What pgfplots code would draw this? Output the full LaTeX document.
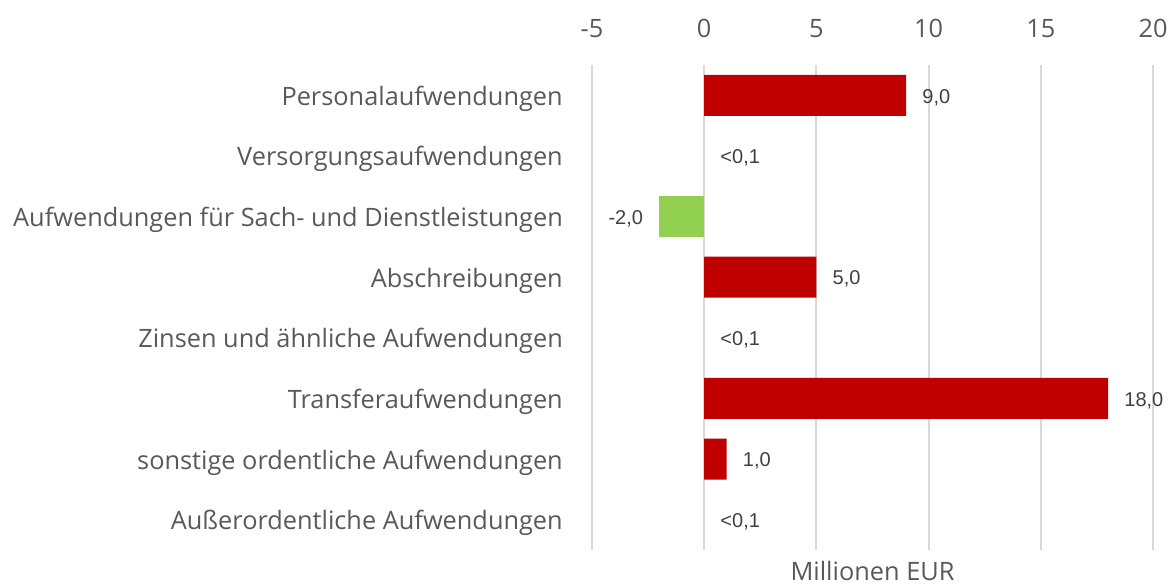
\documentclass[border=0pt]{standalone}
\usepackage{pgfplots}
\pgfplotsset{compat=1.18}
\usepackage{fontspec}
\setmainfont{Open Sans}
\newfontfamily\arial{Liberation Sans}
\definecolor{txt}{HTML}{595959}
\definecolor{vtxt}{HTML}{404040}
\definecolor{gridc}{HTML}{D9D9D9}
\definecolor{barred}{HTML}{C00000}
\definecolor{bargreen}{HTML}{92D050}
\pgfplotstableread{
y x label
0 9 9,0
3 5 5,0
5 18 18,0
6 1 1,0
}\redtab
\pgfplotstableread{
y x label
1 0 <0,1
4 0 <0,1
7 0 <0,1
}\smalltab
\pgfplotstableread{
y x label
2 -2 -2,0
}\greentab
\begin{document}
\begin{tikzpicture}
\path[use as bounding box] (-444pt,-28.5pt) rectangle (432.75pt,412.5pt);
\begin{axis}[
  at={(0pt,0pt)}, anchor=south west,
  width=420.75pt, height=363.75pt, scale only axis,
  xbar, bar width=30.75pt, bar shift=0pt,
  xmin=-5, xmax=20, ymin=-0.5, ymax=7.5, y dir=reverse,
  xtick={-5,0,5,10,15,20},
  ytick={0,1,2,3,4,5,6,7},
  yticklabels={Personalaufwendungen,Versorgungsaufwendungen,Aufwendungen für Sach- und Dienstleistungen,Abschreibungen,Zinsen und ähnliche Aufwendungen,Transferaufwendungen,sonstige ordentliche Aufwendungen,Außerordentliche Aufwendungen},
  xticklabel pos=upper,
  axis line style={draw=none},
  major tick length=0pt,
  xmajorgrids,
  grid style={draw=gridc, line width=1.4pt},
  tick label style={font=\fontsize{19}{21}\selectfont, text=txt},
  /pgf/number format/assume math mode=true,
  xticklabel style={anchor=south, yshift=17pt},
  yticklabel style={anchor=east, inner xsep=0pt, xshift=-21.75pt, yshift=-2.5pt},
  nodes near coords,
  point meta=explicit symbolic,
  every node near coord/.append style={font=\arial\fontsize{15}{17}\selectfont, text=vtxt, inner xsep=12pt, inner ysep=0pt, yshift=-1.5pt},
  clip=false,
]
\addplot[draw=none, fill=barred, every node near coord/.append style={anchor=west}] table[x=x, y=y, meta=label] {\redtab};
\addplot[draw=none, fill=none, every node near coord/.append style={anchor=west}] table[x=x, y=y, meta=label] {\smalltab};
\addplot[draw=none, fill=bargreen, every node near coord/.append style={anchor=east}] table[x=x, y=y, meta=label] {\greentab};
\node[font=\fontsize{19}{21}\selectfont, text=txt] at (axis cs:7.5,7.5) [yshift=-15.5pt] {Millionen EUR};
\end{axis}
\end{tikzpicture}
\end{document}
